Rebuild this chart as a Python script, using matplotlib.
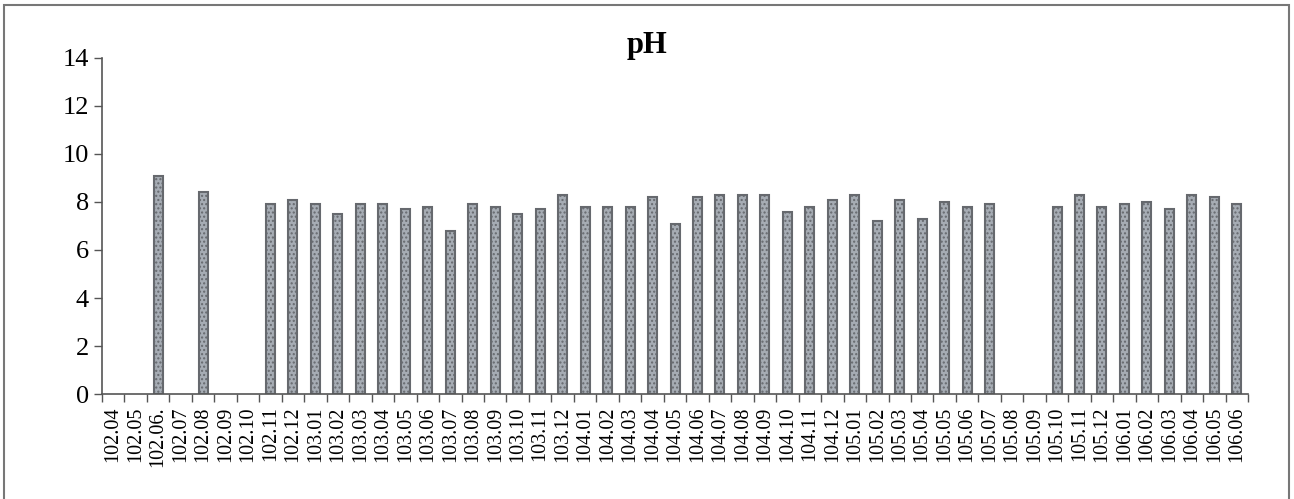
import numpy as np
import matplotlib.pyplot as plt
from matplotlib.patches import Rectangle

plt.rcParams['font.family'] = ['Liberation Serif', 'DejaVu Serif']

months = ['102.04', '102.05', '102.06.', '102.07', '102.08', '102.09', '102.10',
          '102.11', '102.12', '103.01', '103.02', '103.03', '103.04', '103.05',
          '103.06', '103.07', '103.08', '103.09', '103.10', '103.11', '103.12',
          '104.01', '104.02', '104.03', '104.04', '104.05', '104.06', '104.07',
          '104.08', '104.09', '104.10', '104.11', '104.12', '105.01', '105.02',
          '105.03', '105.04', '105.05', '105.06', '105.07', '105.08', '105.09',
          '105.10', '105.11', '105.12', '106.01', '106.02', '106.03', '106.04',
          '106.05', '106.06']
ph = [np.nan, np.nan, 9.1, np.nan, 8.4, np.nan, np.nan,
      7.9, 8.1, 7.9, 7.5, 7.9, 7.9, 7.7,
      7.8, 6.8, 7.9, 7.8, 7.5, 7.7, 8.3,
      7.8, 7.8, 7.8, 8.2, 7.1, 8.2, 8.3,
      8.3, 8.3, 7.6, 7.8, 8.1, 8.3, 7.2,
      8.1, 7.3, 8.0, 7.8, 7.9, np.nan, np.nan,
      7.8, 8.3, 7.8, 7.9, 8.0, 7.7, 8.3,
      8.2, 7.9]

fig = plt.figure(figsize=(12.94, 4.99), dpi=100)
ax = fig.add_axes([0.0788, 0.2104, 0.8857, 0.6734])

x = np.arange(len(months))
vals = np.array(ph, dtype=float)
has = ~np.isnan(vals)  # months without a measurement get no bar
ax.bar(x[has], vals[has], width=0.4, color='#a6acb4', edgecolor='#66696e',
       linewidth=1.5, hatch='....')

ax.set_xlim(-0.5, len(months) - 0.5)
ax.set_ylim(0, 14)
ax.set_yticks(range(0, 15, 2))
ax.tick_params(axis='y', labelsize=19, direction='out', length=6, width=1, color='#555555')

# tick marks between categories, labels under the bars
ax.set_xticks(np.arange(len(months) + 1) - 0.5)
ax.set_xticklabels([])
ax.set_xticks(x, minor=True)
ax.set_xticklabels(months, minor=True, rotation=90, fontsize=14.5)
ax.tick_params(axis='x', which='major', direction='out', length=6, width=1, color='#555555')
ax.tick_params(axis='x', which='minor', length=0, pad=9)

for s in ['top', 'right']:
    ax.spines[s].set_visible(False)
for s in ['left', 'bottom']:
    ax.spines[s].set_color('#555555')
    ax.spines[s].set_linewidth(1.2)

fig.text(0.5, 1 - 45 / 499, 'pH', ha='center', va='center', fontsize=22, fontweight='bold')

# frame around the chart area
fig.patches.append(Rectangle((4 / 1294, -0.05), 1285 / 1294, 1.05 - 5 / 499,
                             transform=fig.transFigure, fill=False,
                             edgecolor='#777777', linewidth=1.5))

fig.savefig('out.png', dpi=100)
